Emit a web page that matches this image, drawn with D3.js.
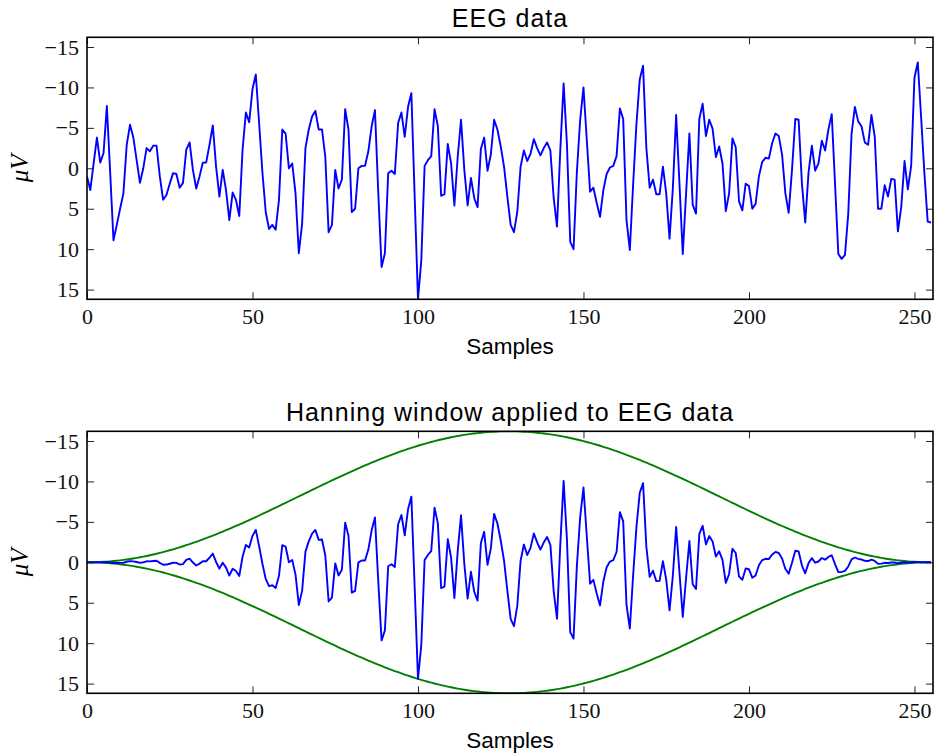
<!DOCTYPE html>
<html>
<head>
<meta charset="utf-8">
<script src="https://cdn.jsdelivr.net/npm/d3@7"></script>
<style>
  html, body { margin: 0; padding: 0; background: #fff; }
  svg { display: block; }
  .tick text { font-family: "Liberation Serif", "Times New Roman", serif; font-size: 22px; fill: #111; }
  .tick line { stroke: #222; stroke-width: 1; }
  .title { font-family: "Liberation Sans", Arial, sans-serif; font-size: 25px; letter-spacing: 1px; fill: #000; }
  .xlabel { font-family: "Liberation Sans", Arial, sans-serif; font-size: 22.5px; fill: #000; }
  .ylabel { font-family: "Liberation Serif", "Times New Roman", serif; font-size: 25px; font-style: italic; fill: #000; }
</style>
</head>
<body>
<script>
// EEG trace, one value per sample (microvolts)
const eeg = [
  1.0, 2.7, -0.6, -3.8, -0.7, -1.9, -7.7, 0.5, 8.9, 7.0,
  5.0, 3.1, -2.9, -5.4, -3.8, -1.0, 1.8, 0.0, -2.5, -2.1,
  -2.8, -2.8, 1.0, 3.9, 3.3, 1.9, 0.6, 0.7, 2.4, 1.8,
  -2.3, -3.2, 0.2, 2.5, 1.0, -0.7, -0.7, -2.9, -5.3, -0.2,
  3.5, 0.2, 2.7, 6.4, 3.0, 3.9, 5.9, -2.3, -6.9, -5.7,
  -9.8, -11.6, -5.6, 0.5, 5.4, 7.5, 7.0, 7.6, 3.9, -4.8,
  -4.3, 0.0, -0.6, 3.1, 10.5, 6.8, -2.5, -4.8, -6.4, -7.1,
  -4.8, -4.8, -1.4, 7.9, 7.0, 0.2, 2.5, 1.4, -7.3, -4.8,
  5.4, 5.0, 0.0, -0.3, -0.3, -2.1, -5.2, -7.2, 3.0, 12.2,
  10.5, 0.6, 0.3, 0.7, -5.6, -6.9, -3.9, -7.6, -9.3, 3.5,
  16.2, 11.4, -0.3, -1.0, -1.5, -7.3, -5.2, 3.4, 3.2, -3.0,
  -0.6, 4.6, -1.4, -6.0, 0.2, 4.6, 1.2, 3.7, 4.8, -2.4,
  -3.8, 0.3, -1.7, -6.0, -4.8, -2.7, -0.2, 3.5, 7.0, 7.9,
  5.4, -0.2, -2.2, -0.9, -1.8, -3.6, -2.5, -1.6, -2.5, -3.2,
  -2.2, 3.7, 7.2, -2.3, -10.5, -3.0, 9.1, 10.0, 0.5, -6.0,
  -10.0, -3.5, 2.9, 2.4, 4.3, 6.0, 2.7, 0.7, -0.1, -0.3,
  -1.5, -7.4, -6.1, 6.4, 10.1, 2.0, -5.5, -11.0, -12.7, -2.5,
  2.4, 1.4, 3.2, 3.2, -0.2, 3.1, 8.7, 2.5, -6.6, 1.9,
  10.6, 3.1, -4.3, 4.5, 5.6, -6.1, -8.0, -4.0, -6.0, -4.9,
  -1.4, -2.7, -0.6, 5.3, 3.1, -3.7, -2.6, 4.1, 5.2, 1.9,
  2.2, 5.0, 4.4, 1.0, -0.8, -1.3, -1.2, -3.1, -4.3, -4.0,
  -1.7, 3.1, 5.5, 0.2, -6.1, -6.0, 1.9, 6.7, 0.5, -2.8,
  0.3, -0.6, -3.4, -2.2, -4.8, -6.7, 1.9, 10.6, 11.2, 10.7,
  5.6, -4.3, -7.6, -5.8, -5.2, -3.2, -2.9, -6.6, -3.9, 5.0,
  5.0, 2.1, 3.5, 1.3, 1.4, 7.8, 4.8, -0.9, 2.6, -0.3,
  -11.2, -13.1, -6.4, 0.6, 6.6, 6.7
];

const xTicks = [0, 50, 100, 150, 200, 250];
const yTicks = [-15, -10, -5, 0, 5, 10, 15];
const yTickLabels = ["\u221215", "\u221210", "\u22125", "0", "5", "10", "15"];
const titles = ["EEG data", "Hanning window applied to EEG data"];
const xLabel = "Samples";
const yLabel = "\u03bcV";

// Hanning window over the record length and its amplitude (peak |value|)
const N = eeg.length;
const amp = d3.max(eeg, v => Math.abs(v));
const hann = d3.range(N).map(n => 0.5 - 0.5 * Math.cos(2 * Math.PI * n / (N - 1)));
const windowed = eeg.map((v, i) => v * hann[i]);
const envUpper = hann.map(w => -amp * w);
const envLower = hann.map(w => amp * w);

const W = 937, H = 756;
const svg = d3.select("body").append("svg").attr("width", W).attr("height", H);

const left = 87, right = 933;
const x = d3.scaleLinear().domain([0, 255.6]).range([left, right]);

function panel(top, bottom, title, series) {
  const y = d3.scaleLinear().domain([-amp, amp]).range([top, bottom]);
  const g = svg.append("g");
  const clipId = "clip" + Math.round(top);
  g.append("clipPath").attr("id", clipId)
    .append("rect").attr("x", left).attr("y", top).attr("width", right - left).attr("height", bottom - top);

  const line = d3.line().x((d, i) => x(i)).y(d => y(d));
  const plot = g.append("g").attr("clip-path", `url(#${clipId})`);
  series.forEach(s => {
    plot.append("path").datum(s.values)
      .attr("fill", "none").attr("stroke", s.color).attr("stroke-width", 1.9)
      .attr("stroke-linejoin", "round").attr("d", line);
  });

  const tk = 7;
  g.append("g").attr("transform", `translate(0,${bottom})`)
    .call(d3.axisBottom(x).tickValues(xTicks).tickSizeInner(-tk).tickSizeOuter(0).tickPadding(9))
    .call(a => a.select(".domain").remove());
  g.append("g").attr("transform", `translate(0,${top})`)
    .call(d3.axisTop(x).tickValues(xTicks).tickSizeInner(-tk).tickSizeOuter(0).tickFormat(""))
    .call(a => a.select(".domain").remove());
  g.append("g").attr("transform", `translate(${left},0)`)
    .call(d3.axisLeft(y).tickValues(yTicks).tickSizeInner(-tk).tickSizeOuter(0).tickPadding(8)
      .tickFormat((d, i) => yTickLabels[i]))
    .call(a => a.select(".domain").remove());
  g.append("g").attr("transform", `translate(${right},0)`)
    .call(d3.axisRight(y).tickValues(yTicks).tickSizeInner(-tk).tickSizeOuter(0).tickFormat(""))
    .call(a => a.select(".domain").remove());

  g.append("rect").attr("x", left).attr("y", top).attr("width", right - left).attr("height", bottom - top)
    .attr("fill", "none").attr("stroke", "#000").attr("stroke-width", 1.6);

  g.append("text").attr("class", "title").attr("x", (left + right) / 2).attr("y", top - 10)
    .attr("text-anchor", "middle").text(title);
  g.append("text").attr("class", "xlabel").attr("x", (left + right) / 2).attr("y", bottom + 55)
    .attr("text-anchor", "middle").text(xLabel);
  g.append("text").attr("class", "ylabel")
    .attr("transform", `translate(28,${(top + bottom) / 2}) rotate(-90)`)
    .attr("text-anchor", "middle").text(yLabel);
}

panel(37.3, 299.3, titles[0], [{ values: eeg, color: "#0000ff" }]);
panel(431.3, 693.3, titles[1], [
  { values: envUpper, color: "#008000" },
  { values: envLower, color: "#008000" },
  { values: windowed, color: "#0000ff" }
]);
</script>
</body>
</html>
